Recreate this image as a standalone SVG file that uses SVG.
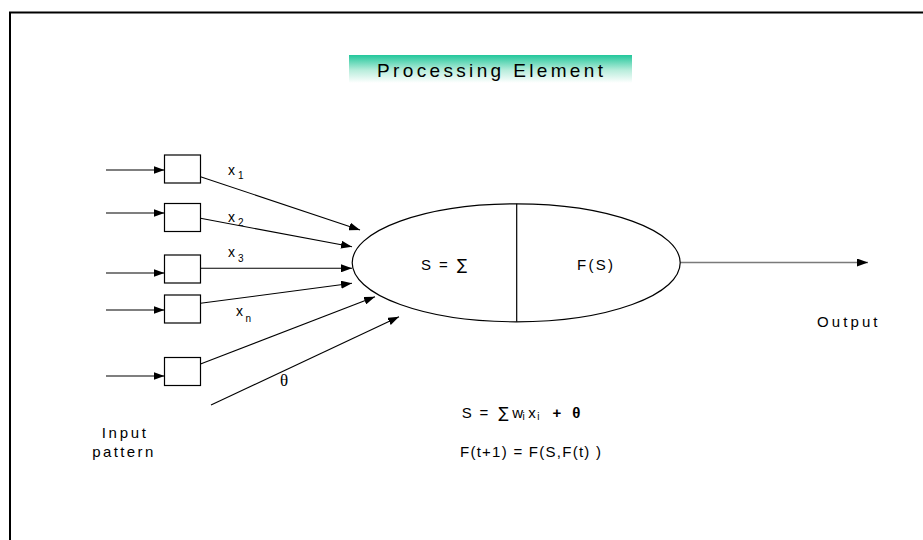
<svg xmlns="http://www.w3.org/2000/svg" width="923" height="540" viewBox="0 0 923 540">
<style>
text{font-family:"Liberation Sans",Arial,sans-serif;fill:#000;}
.box{fill:#fff;stroke:#000;stroke-width:1.2;}
.ln{stroke:#000;stroke-width:1.1;fill:none;}
.lbl{font-size:14px;}
.sub{font-size:10px;}
.sig{font-family:"DejaVu Sans",sans-serif;font-weight:normal;}
.th{font-family:"Liberation Serif",serif;font-size:17px;}
</style>
<defs>
<marker id="ah" markerUnits="userSpaceOnUse" markerWidth="12" markerHeight="8" refX="11" refY="4" orient="auto">
<path d="M0,0 L11,4 L0,8 z" fill="#000"/>
</marker>
<linearGradient id="tg" x1="0" y1="0" x2="0" y2="1">
<stop offset="0" stop-color="#22c79b"/>
<stop offset="0.55" stop-color="#b9eddc"/>
<stop offset="1" stop-color="#ffffff"/>
</linearGradient>
</defs>
<rect width="923" height="540" fill="#fff"/>
<path d="M10,540 L10,12.5 L923,12.5" fill="none" stroke="#000" stroke-width="2"/>

<g id="title">
<rect x="349" y="55" width="283" height="28" fill="url(#tg)"/>
<text x="377" y="77" font-size="19" textLength="226" lengthAdjust="spacing">Processing Element</text>
</g>

<g id="connectors">
<line class="ln" x1="106" y1="170" x2="164.5" y2="170" marker-end="url(#ah)"/>
<line class="ln" x1="106" y1="213" x2="164.5" y2="213" marker-end="url(#ah)"/>
<line class="ln" x1="106" y1="273" x2="164.5" y2="273" marker-end="url(#ah)"/>
<line class="ln" x1="106" y1="310" x2="164.5" y2="310" marker-end="url(#ah)"/>
<line class="ln" x1="106" y1="376" x2="164.5" y2="376" marker-end="url(#ah)"/>
<line class="ln" x1="200.5" y1="176.7" x2="360" y2="230" marker-end="url(#ah)"/>
<line class="ln" x1="200.5" y1="218.3" x2="352" y2="246.7" marker-end="url(#ah)"/>
<line class="ln" x1="200.5" y1="268.3" x2="352" y2="268.3" marker-end="url(#ah)"/>
<line class="ln" x1="200.5" y1="303.3" x2="352" y2="283.3" marker-end="url(#ah)"/>
<line class="ln" x1="200.5" y1="364" x2="375" y2="296.7" marker-end="url(#ah)"/>
<line class="ln" x1="211" y1="405" x2="399" y2="316.7" marker-end="url(#ah)"/>
<line x1="680" y1="262.5" x2="868" y2="262.5" stroke="#7a7a7a" stroke-width="1.6" marker-end="url(#ah)"/>
</g>

<g id="in1"><rect class="box" x="164.5" y="155" width="36" height="28"/></g>
<g id="in2"><rect class="box" x="164.5" y="203.5" width="36" height="28"/></g>
<g id="in3"><rect class="box" x="164.5" y="255" width="36" height="28"/></g>
<g id="in4"><rect class="box" x="164.5" y="295" width="36" height="28"/></g>
<g id="in5"><rect class="box" x="164.5" y="357.5" width="36" height="28"/></g>

<g id="labels">
<text class="lbl" x="228" y="175">x</text><text class="sub" x="238" y="178.5">1</text>
<text class="lbl" x="228" y="221.7">x</text><text class="sub" x="238" y="226">2</text>
<text class="lbl" x="228" y="256.7">x</text><text class="sub" x="238" y="261.7">3</text>
<text class="lbl" x="236" y="316">x</text><text class="sub" x="245.5" y="321.7">n</text>
<text class="th" x="280" y="386">θ</text>
</g>

<g id="pe">
<ellipse cx="516.2" cy="262.8" rx="164" ry="59" fill="#fff" stroke="#000" stroke-width="1.2"/>
<line x1="516.7" y1="203.8" x2="516.7" y2="321.8" stroke="#000" stroke-width="1.2"/>
<text y="270" font-size="15"><tspan x="421">S</tspan><tspan x="439">=</tspan><tspan class="sig" x="457">∑</tspan></text>
<text x="577" y="270" font-size="15" textLength="36" lengthAdjust="spacing">F(S)</text>
</g>

<g id="output">
<text x="817" y="327.3" font-size="15" textLength="60.5" lengthAdjust="spacing">Output</text>
</g>

<g id="input">
<text x="101.7" y="438.3" font-size="15" textLength="44.3" lengthAdjust="spacing">Input</text>
<text x="92.3" y="457.3" font-size="15" textLength="61" lengthAdjust="spacing">pattern</text>
</g>

<g id="equations">
<text font-size="15" y="418.3"><tspan x="461.7">S</tspan><tspan x="479.5">=</tspan><tspan class="sig" x="498.5">∑</tspan><tspan x="512.3">w</tspan></text>
<text class="sub" x="522.5" y="420">i</text>
<text font-size="15" x="528.3" y="418.3">x</text>
<text class="sub" x="537.3" y="420">i</text>
<text font-size="15" font-weight="bold" y="418.3"><tspan x="552.5">+</tspan><tspan x="572.3">θ</tspan></text>
<text x="460" y="456.7" font-size="15" textLength="141" lengthAdjust="spacing">F(t+1) = F(S,F(t) )</text>
</g>
</svg>
